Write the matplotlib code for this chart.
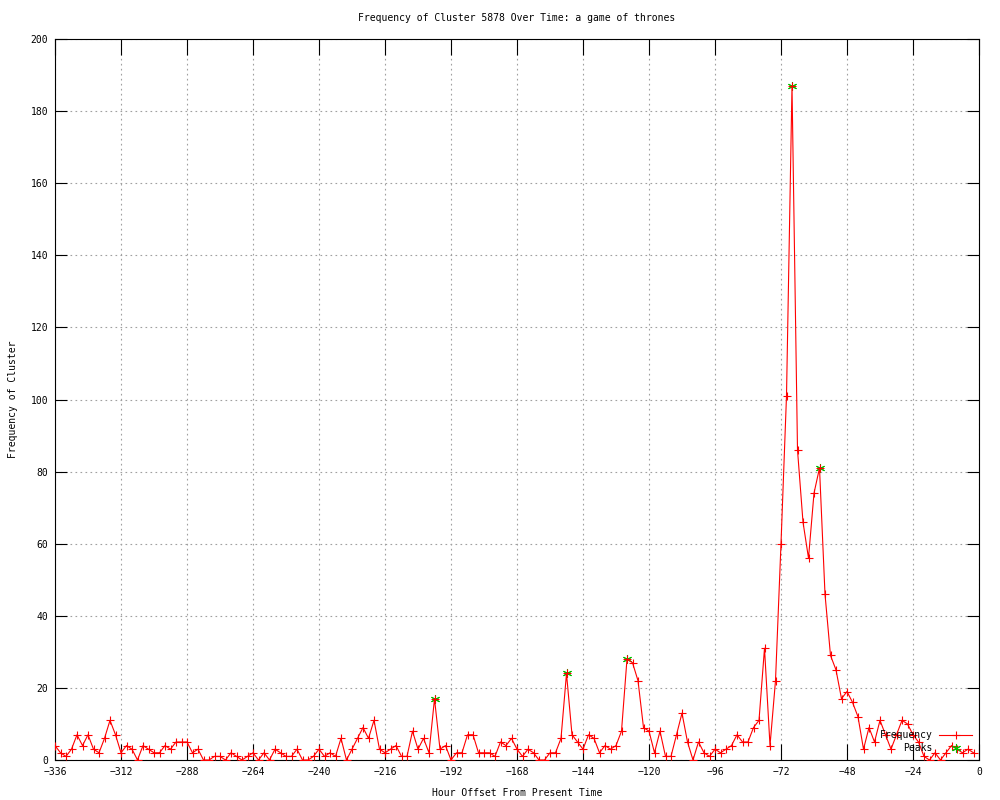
import numpy as np
import matplotlib
matplotlib.use("Agg")
import matplotlib.pyplot as plt

# hourly offsets (every 2 hours) and cluster counts
hours = np.arange(-336, 0, 2)
freq = [
    4, 2, 1, 3, 7, 4, 7, 3, 2, 6, 11, 7, 2, 4, 3, 0, 4, 3, 2, 2,
    4, 3, 5, 5, 5, 2, 3, 0, 0, 1, 1, 0, 2, 1, 0, 1, 2, 0, 2, 0,
    3, 2, 1, 1, 3, 0, 0, 1, 3, 1, 2, 1, 6, 0, 3, 6, 9, 6, 11, 3,
    2, 3, 4, 1, 1, 8, 3, 6, 2, 17, 3, 4, 0, 2, 2, 7, 7, 2, 2, 2,
    1, 5, 4, 6, 3, 1, 3, 2, 0, 0, 2, 2, 6, 24, 7, 5, 3, 7, 6, 2,
    4, 3, 4, 8, 28, 27, 22, 9, 8, 2, 8, 1, 1, 7, 13, 5, 0, 5, 2, 1,
    3, 2, 3, 4, 7, 5, 5, 9, 11, 31, 4, 22, 60, 101, 187, 86, 66, 56, 74, 81,
    46, 29, 25, 17, 19, 16, 12, 3, 9, 5, 11, 7, 3, 7, 11, 10, 7, 5, 1, 0,
    2, 0, 2, 4, 3, 2, 3, 2,
]
peak_hours = [-198, -150, -128, -68, -58]
peak_vals = [17, 24, 28, 187, 81]

xticks = np.arange(-336, 1, 24)
yticks = np.arange(0, 201, 20)

mono = "DejaVu Sans Mono"
fs = 7

fig = plt.figure(figsize=(10, 8), dpi=100)
ax = fig.add_axes([0.055, 0.05, 0.924, 0.90125])

# peaks drawn under the red series so the red cross sits on top
ax.plot(peak_hours, peak_vals, linestyle="none", marker=(6, 2, 0),
        markersize=6.5, markeredgewidth=0.75, color="#00c000", zorder=2,
        label="Peaks")
ax.plot(hours, freq, color="red", linewidth=0.8, marker="+",
        markersize=5.5, markeredgewidth=0.8, zorder=3, label="Frequency")

ax.set_xlim(-336, 0)
ax.set_ylim(0, 200)
ax.set_xticks(xticks)
ax.set_yticks(yticks)
ax.grid(True, color="#a0a0a0", linestyle=(0, (1.5, 3)), linewidth=0.8)
ax.set_axisbelow(True)

ax.tick_params(axis="both", direction="in", top=True, right=True,
               width=0.8, labelsize=fs, pad=5, color="black")
ax.tick_params(axis="x", length=11.5)
ax.tick_params(axis="y", length=8.8)
for lab in ax.get_xticklabels() + ax.get_yticklabels():
    lab.set_fontfamily(mono)
for s in ax.spines.values():
    s.set_linewidth(0.8)

ax.set_title("Frequency of Cluster 5878 Over Time: a game of thrones",
             fontsize=fs, family=mono, pad=13)
ax.set_xlabel("Hour Offset From Present Time", fontsize=fs, family=mono,
              labelpad=8)
ax.set_ylabel("Frequency of Cluster", fontsize=fs, family=mono, labelpad=9)

h, l = ax.get_legend_handles_labels()
ax.legend(h[::-1], l[::-1], loc="lower right", frameon=False,
          markerfirst=False, prop={"family": mono, "size": fs},
          handlelength=3.4, handletextpad=0.7, labelspacing=0.3,
          borderaxespad=0.4, borderpad=0.3, numpoints=1)

fig.savefig("out.png", dpi=100)
